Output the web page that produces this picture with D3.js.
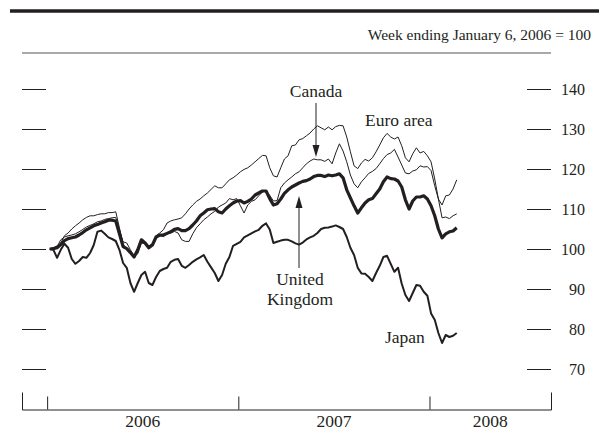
<!DOCTYPE html>
<html>
<head>
<meta charset="utf-8">
<script src="https://cdn.jsdelivr.net/npm/d3@7"></script>
<style>
  body { margin: 0; background: #fff; }
  svg { display: block; }
  text { font-family: "Liberation Serif", "Times New Roman", serif; fill: #231f20; }
</style>
</head>
<body>
<svg id="chart" width="599" height="432"></svg>
<script>
// Weekly observations, Friday week-ending dates from Jan 6, 2006 through Feb 22, 2008
const firstWeek = "2006-01-06";
const lastWeek = "2008-02-22";

// Equity indexes, week ending January 6, 2006 = 100
const euroArea = [
  100, 100.3, 100.8, 101.5, 103.3, 104, 105, 105.8, 106.5, 107.3, 107.9, 108.3, 108.3, 108.6, 108.8, 108.8,
  109.1, 109.1, 109.3, 105.3, 101.3, 99.8, 98.9, 98.3, 99.5, 102, 101.8, 100.8, 101.3, 103.3, 104, 104.8,
  106.5, 107, 107.3, 107.5, 107.8, 108.8, 110, 111, 111.9, 112.5, 113.3, 114, 114.9, 115.8, 115.3, 115.3,
  116.3, 117.3, 117.8, 118.5, 119.3, 119.9, 120.3, 121, 121.8, 122.6, 123.4, 123.3, 120.3, 118.3, 118, 120.3,
  122.5, 123.3, 125.8, 126, 127.3, 127.6, 128.3, 129, 130, 130.8, 130.3, 129.8, 130.5, 129.8, 130.6, 130.9,
  130.8, 128, 124.3, 120.8, 120.1, 121.5, 122.4, 122, 122.8, 124.3, 126, 127.8, 128.9, 128, 127.5, 128,
  125.8, 122.8, 121.8, 123.8, 125.3, 124, 124.4, 123.3, 121.8, 117.5, 112.5, 111, 113.3, 113.5, 115, 117.3
];
const canada = [
  100, 100.3, 100.6, 102.3, 103, 103.3, 103.5, 103.8, 104.3, 104.9, 105.5, 105.9, 106.3, 106.8, 107, 107.4,
  107.6, 107.8, 107.9, 104.8, 101.8, 101.5, 99.8, 98.3, 98.8, 101.5, 101.3, 100, 100.8, 102.8, 103.3, 103.1,
  103.8, 104, 104.4, 104, 102.3, 101.9, 101.9, 103.8, 105.3, 106.3, 107.3, 108, 108.8, 109.4, 110.5, 111,
  111.5, 112.6, 112.3, 112.6, 110.8, 109, 111, 111.9, 112.3, 113.3, 114.3, 114.5, 113.4, 112, 112.1, 115.3,
  116.5, 117.3, 118, 118.8, 119.3, 120.3, 121.3, 122, 122.5, 122.3, 122.3, 121.9, 122.5, 121.3, 124, 126.3,
  124.5, 121.8, 118.5, 116.3, 115.3, 116.8, 117.8, 118.9, 119.4, 120.1, 121.3, 122.6, 123.6, 124, 124.9, 123,
  121, 119, 118.8, 119.5, 119.8, 120.8, 120.5, 120.6, 119.6, 115.8, 112.5, 107.8, 108, 107.6, 108.3, 108.8
];
const unitedKingdom = [
  100, 100.1, 100.3, 101.1, 102.1, 102.6, 102.8, 103, 103.5, 104.1, 104.8, 105.3, 105.8, 106.1, 106.5, 106.8,
  107.2, 107.2, 107, 103.8, 100.6, 100.1, 99.1, 98, 99.8, 102.3, 101.5, 100.3, 101, 103, 103.5, 103.5,
  103.9, 104.3, 104.9, 105.1, 104.6, 104.6, 105.1, 106, 107, 108.3, 109, 109.8, 110, 110.1, 109.3, 109,
  110, 110.8, 111.5, 112, 112.1, 111.5, 111.9, 112.5, 113.5, 114, 114.5, 114.5, 112.6, 111, 111.3, 112.5,
  113.9, 114.8, 115.5, 116, 116.5, 116.9, 117.1, 117.5, 118.1, 118.4, 118.4, 118.1, 118.5, 118.3, 118.5, 118.8,
  117.8, 114.8, 112.8, 110.8, 109, 110.3, 111.5, 112.3, 112.6, 113.8, 115, 116.8, 118, 117.6, 117.5, 117,
  115.5, 112.3, 110, 112, 113, 113, 113.3, 112.5, 110.8, 108.3, 105, 102.8, 103.8, 104.3, 104.5, 105.3
];
const japan = [
  100, 99.8, 97.8, 99.8, 101.3, 100.3, 97.5, 96.3, 97, 98, 97.8, 99, 101, 104.3, 104.6, 103.8,
  102.9, 102.5, 102, 99.8, 96.5, 95.3, 91.5, 89.3, 91.5, 93.5, 94.3, 91.5, 91, 93, 94.5, 95,
  95.3, 96.8, 97.3, 97.5, 95.8, 95.3, 96, 96.8, 97.4, 97.9, 98.5, 96.8, 95.4, 94, 92, 93.5,
  96.3, 98, 100.8, 101.3, 101.8, 102.9, 103.4, 103.9, 104.4, 104.8, 105.8, 106.4, 104.9, 101.5, 101.8, 102.1,
  102.3, 102.3, 101.9, 101.4, 101.1, 101.6, 102.4, 102.9, 103.3, 104, 105, 105.3, 105.4, 105.6, 105.9, 105.5,
  105, 103, 100.3, 98.5, 95.3, 93.9, 93.8, 93, 92, 94, 95.8, 98, 98.3, 96.3, 94.3, 95.3,
  91.3, 88.5, 87, 89, 91, 90.8, 89.3, 88.3, 83.9, 82.3, 79, 76.5, 78.5, 78, 78.3, 79
];

const yTicks = [70, 80, 90, 100, 110, 120, 130, 140];
const yearTicks = ["2006-01-01", "2007-01-01", "2008-01-01"];
const yearLabels = ["2006", "2007", "2008"];
const subtitle = "Week ending January 6, 2006 = 100";

const ink = "#231f20";
const parse = d3.timeParse("%Y-%m-%d");
const weeks = d3.timeFriday.range(parse(firstWeek), d3.timeDay.offset(parse(lastWeek), 1));
const yearDates = yearTicks.map(parse);

const svg = d3.select("#chart");

// Scales: the frame runs from mid-November 2005 to late August 2008
const x = d3.scaleTime()
  .domain([parse("2005-11-14"), parse("2008-08-20")])
  .range([22, 551]);
const y = d3.scaleLinear().domain([70, 140]).range([369, 89]);
const [frameLeft, frameRight] = x.range();

// Header rules and unit note
svg.append("line").attr("x1", 10).attr("x2", 599).attr("y1", 11).attr("y2", 11)
  .attr("stroke", ink).attr("stroke-width", 3.5);
svg.append("text").attr("x", 591).attr("y", 40).attr("text-anchor", "end")
  .attr("font-size", 15.5).text(subtitle);
svg.append("line").attr("x1", frameLeft).attr("x2", frameRight).attr("y1", 53).attr("y2", 53)
  .attr("stroke", "#8c8c8c").attr("stroke-width", 1.5);

// Tick marks inside the frame on both sides
const leftAxis = svg.append("g").attr("transform", `translate(${frameLeft},0)`)
  .call(d3.axisRight(y).tickValues(yTicks).tickSize(24).tickFormat(""));
leftAxis.select(".domain").remove();
leftAxis.selectAll("line").attr("stroke", ink).attr("stroke-width", 1);

const rightAxis = svg.append("g").attr("transform", `translate(${frameRight},0)`)
  .call(d3.axisLeft(y).tickValues(yTicks).tickSize(24).tickFormat(d3.format("d")));
rightAxis.select(".domain").remove();
rightAxis.selectAll("line").attr("stroke", ink).attr("stroke-width", 1);
rightAxis.selectAll("text")
  .attr("text-anchor", "end").attr("x", 34)
  .attr("font-family", "'Liberation Serif', 'Times New Roman', serif")
  .attr("font-size", 16).attr("fill", ink);

// Time axis along the bottom, ticks pointing up
const axisY = 409.5;
const xAxis = svg.append("g").attr("transform", `translate(0,${axisY})`)
  .call(d3.axisTop(x).tickValues(yearDates).tickSize(13).tickSizeOuter(17).tickFormat(""));
xAxis.selectAll("line, path").attr("stroke", ink).attr("stroke-width", 1);

// Year labels centred within each year's span
const yearEnds = [yearDates[1], yearDates[2], x.domain()[1]];
svg.append("g").selectAll("text").data(yearLabels).join("text")
  .attr("x", (d, i) => (x(yearDates[i]) + x(yearEnds[i])) / 2)
  .attr("y", 427)
  .attr("text-anchor", "middle")
  .attr("font-size", 17.5)
  .text(d => d);

// Series lines
const line = d3.line()
  .x((d, i) => x(weeks[i]))
  .y(d => y(d));

const series = [
  { name: "Euro area", values: euroArea, width: 1 },
  { name: "Canada", values: canada, width: 1 },
  { name: "Japan", values: japan, width: 2 },
  { name: "United Kingdom", values: unitedKingdom, width: 3.2 }
];
svg.append("g").selectAll("path").data(series).join("path")
  .attr("d", d => line(d.values))
  .attr("fill", "none")
  .attr("stroke", ink)
  .attr("stroke-width", d => d.width)
  .attr("stroke-linejoin", "round");

// Annotations
const labels = svg.append("g").attr("font-size", 17.5);
labels.append("text").attr("x", 316).attr("y", 97).attr("text-anchor", "middle").text("Canada");
labels.append("text").attr("x", 365).attr("y", 126).text("Euro area");
labels.append("text").attr("x", 300).attr("y", 285).attr("text-anchor", "middle").text("United");
labels.append("text").attr("x", 300).attr("y", 305).attr("text-anchor", "middle").text("Kingdom");
labels.append("text").attr("x", 385).attr("y", 343).text("Japan");

function arrow(xPos, yFrom, yTip) {
  const dir = yTip > yFrom ? 1 : -1;
  const g = svg.append("g");
  g.append("line").attr("x1", xPos).attr("x2", xPos)
    .attr("y1", yFrom).attr("y2", yTip - dir * 8)
    .attr("stroke", ink).attr("stroke-width", 1);
  g.append("path")
    .attr("d", `M${xPos},${yTip} L${xPos - 3.5},${yTip - dir * 12} L${xPos + 3.5},${yTip - dir * 12} Z`)
    .attr("fill", ink);
}
arrow(316, 103, 157);   // Canada
arrow(299, 268, 196);   // United Kingdom
</script>
</body>
</html>
